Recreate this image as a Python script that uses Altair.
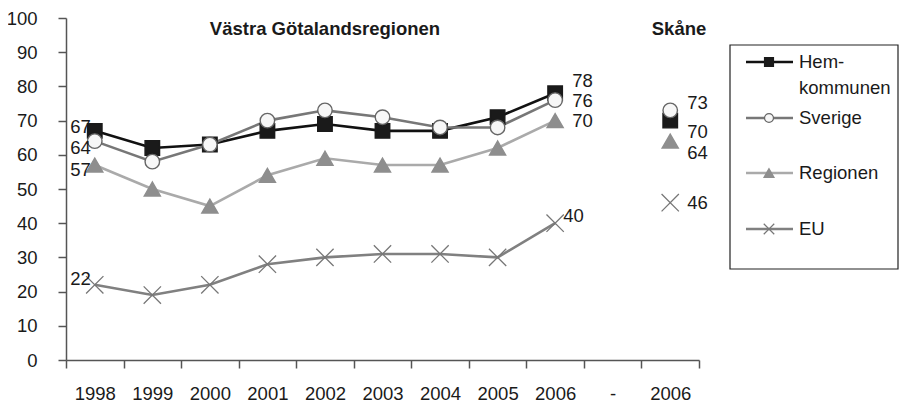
import altair as alt
import pandas as pd

# ---------------- data ----------------
years = ["1998", "1999", "2000", "2001", "2002", "2003", "2004", "2005", "2006"]
categories = years + ["-", "S2006"]          # last band = Skåne 2006
series = ["Hemkommunen", "Sverige", "Regionen", "EU"]
hem = [67, 62, 63, 67, 69, 67, 67, 71, 78]
sverige = [64, 58, 63, 70, 73, 71, 68, 68, 76]
regionen = [57, 50, 45, 54, 59, 57, 57, 62, 70]
eu = [22, 19, 22, 28, 30, 31, 31, 30, 40]
skane_values = [70, 73, 64, 46]               # Hemkommunen, Sverige, Regionen, EU
title_main = "Västra Götalandsregionen"
title_skane = "Skåne"
legend_labels = [["Hem-", "kommunen"], ["Sverige"], ["Regionen"], ["EU"]]

values = {"Hemkommunen": hem, "Sverige": sverige, "Regionen": regionen, "EU": eu}
rows = []
for s in series:
    for y, v in zip(years, values[s]):
        rows.append({"cat": y, "series": s, "value": v, "pos": "first" if y == years[0] else ("last" if y == years[-1] else "mid")})
df = pd.DataFrame(rows)
sk = pd.DataFrame({"cat": ["S2006"] * 4, "series": series, "value": skane_values})

# ---------------- styles ----------------
FONT = "Liberation Sans"
FS = 18.5
XPATH = "M-1,-1L1,1M1,-1L-1,1"
style = {
    "Hemkommunen": dict(line="#111111", shape="square", fill="#1a1a1a", stroke="#1a1a1a", size=210, lsize=80),
    "Sverige": dict(line="#777777", shape="circle", fill="#f7f7f7", stroke="#666666", size=210, lsize=80),
    "Regionen": dict(line="#aaaaaa", shape="triangle-up", fill="#8e8e8e", stroke="#8e8e8e", size=260, lsize=100),
    "EU": dict(line="#808080", shape=XPATH, fill=None, stroke="#777777", size=300, lsize=110),
}
# label offsets (dx, dy) per series for first year / last year / Skåne
lab_first = {"Hemkommunen": (-4, -4), "Sverige": (-4, 7), "Regionen": (-4, 5), "EU": (-4, -6)}
lab_last = {"Hemkommunen": (17, -12), "Sverige": (17, 1), "Regionen": (17, 0), "EU": (8, -7)}
lab_sk = {"Hemkommunen": (17, 11), "Sverige": (17, -7), "Regionen": (17, 12), "EU": (17, 0)}

xscale = alt.Scale(domain=categories, type="band", paddingInner=0, paddingOuter=0)
yscale = alt.Scale(domain=[0, 100], nice=False)

X = alt.X("cat:N", scale=xscale, sort=categories,
          axis=alt.Axis(title=None, labelAngle=0, tickBand="extent", tickSize=8, labelPadding=16,
                        labelExpr="datum.label == 'S2006' ? '2006' : datum.label"))
Y = alt.Y("value:Q", scale=yscale,
          axis=alt.Axis(title=None, values=list(range(0, 101, 10)), tickSize=8, labelPadding=21))

base = alt.Chart(df).encode(x=X, y=Y)
layers = []
order = ["EU", "Regionen", "Hemkommunen", "Sverige"]
for s in order:
    st = style[s]
    sub = base.transform_filter(alt.datum.series == s)
    layers.append(sub.mark_line(color=st["line"], strokeWidth=2.6))
for s in order:
    st = style[s]
    for src in (base.transform_filter(alt.datum.series == s),
                alt.Chart(sk).encode(x=X, y=Y).transform_filter(alt.datum.series == s)):
        if st["fill"] is None:
            m = src.mark_point(shape=st["shape"], size=st["size"], filled=False, stroke=st["stroke"], strokeWidth=1.3, opacity=1)
        else:
            m = src.mark_point(shape=st["shape"], size=st["size"], filled=True, fill=st["fill"], stroke=st["stroke"], strokeWidth=1.4, opacity=1)
        layers.append(m)

for s in series:
    dx, dy = lab_first[s]
    layers.append(base.transform_filter((alt.datum.series == s) & (alt.datum.pos == "first"))
                  .mark_text(align="right", baseline="middle", dx=dx, dy=dy, font=FONT, fontSize=FS, color="#1a1a1a")
                  .encode(text="value:Q"))
    dx, dy = lab_last[s]
    layers.append(base.transform_filter((alt.datum.series == s) & (alt.datum.pos == "last"))
                  .mark_text(align="left", baseline="middle", dx=dx, dy=dy, font=FONT, fontSize=FS, color="#1a1a1a")
                  .encode(text="value:Q"))
    dx, dy = lab_sk[s]
    layers.append(alt.Chart(sk).encode(x=X, y=Y).transform_filter(alt.datum.series == s)
                  .mark_text(align="left", baseline="middle", dx=dx, dy=dy, font=FONT, fontSize=FS, color="#1a1a1a")
                  .encode(text="value:Q"))

# titles
layers.append(alt.Chart(pd.DataFrame({"t": [title_main]})).mark_text(
    font=FONT, fontSize=FS, fontWeight="bold", align="center", baseline="middle", color="#1a1a1a"
).encode(text="t:N", x=alt.value(259), y=alt.value(11)))
layers.append(alt.Chart(pd.DataFrame({"t": [title_skane]})).mark_text(
    font=FONT, fontSize=FS, fontWeight="bold", align="center", baseline="middle", color="#1a1a1a"
).encode(text="t:N", x=alt.value(613), y=alt.value(11)))

# legend (manual box)
one = pd.DataFrame({"a": [0]})
layers.append(alt.Chart(one).mark_rect(fill="white", stroke="#222222", strokeWidth=1.2).encode(
    x=alt.value(664), x2=alt.value(832), y=alt.value(27), y2=alt.value(251)))
leg_y = [44, 100, 155, 211]
for s, lab, ly in zip(series, legend_labels, leg_y):
    st = style[s]
    layers.append(alt.Chart(one).mark_rule(color=st["line"], strokeWidth=2.6).encode(
        x=alt.value(680), x2=alt.value(727), y=alt.value(ly)))
    if st["fill"] is None:
        pm = alt.Chart(one).mark_point(shape=st["shape"], size=st["lsize"], filled=False, stroke=st["stroke"], strokeWidth=1.2, opacity=1)
    else:
        pm = alt.Chart(one).mark_point(shape=st["shape"], size=st["lsize"], filled=True, fill=st["fill"], stroke=st["stroke"], strokeWidth=1.2, opacity=1)
    layers.append(pm.encode(x=alt.value(703), y=alt.value(ly)))
    for i, line in enumerate(lab):
        layers.append(alt.Chart(pd.DataFrame({"t": [line]})).mark_text(
            font=FONT, fontSize=FS, align="left", baseline="middle", color="#1a1a1a"
        ).encode(text="t:N", x=alt.value(733), y=alt.value(ly + i * 26)))

chart = alt.layer(*layers).properties(
    width=633, height=342,
    autosize=alt.AutoSizeParams(type="none"),
    padding={"left": 58, "top": 10, "right": 201, "bottom": 43},
).configure_view(stroke=None).configure_axis(
    labelFont=FONT, labelFontSize=FS, labelColor="#1a1a1a",
    domainColor="#555555", tickColor="#555555", domainWidth=1.5, tickWidth=1.5, grid=False,
)

chart.save("out.html", embed_options={"renderer": "svg", "actions": False})
